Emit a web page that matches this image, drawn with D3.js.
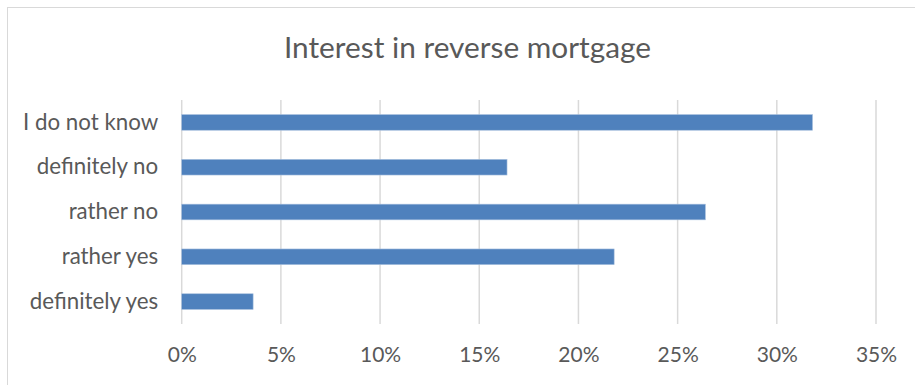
<!DOCTYPE html>
<html>
<head>
<meta charset="utf-8">
<script src="https://cdn.jsdelivr.net/npm/d3@7"></script>
<style>
  html, body { margin: 0; padding: 0; background: #fff; }
  svg { display: block; }
  text { font-family: Lato, "Liberation Sans", sans-serif; fill: #595959; }
</style>
</head>
<body>
<svg id="chart" width="915" height="385"></svg>
<script>
// Survey answers, listed top to bottom as shown
const categories = ["I do not know", "definitely no", "rather no", "rather yes", "definitely yes"];
const shares = [0.318, 0.164, 0.264, 0.218, 0.036];
const tickValues = [0, 0.05, 0.10, 0.15, 0.20, 0.25, 0.30, 0.35];
const title = "Interest in reverse mortgage";

const svg = d3.select("#chart");

// outer chart frame
svg.append("rect")
  .attr("x", 7.5).attr("y", 7.5)
  .attr("width", 920).attr("height", 390)
  .attr("fill", "none").attr("stroke", "#d9d9d9").attr("stroke-width", 1);

const plot = { left: 181.7, right: 876, top: 100, bottom: 324 };

const x = d3.scaleLinear().domain([0, 0.35]).range([plot.left, plot.right]);
const y = d3.scaleBand().domain(categories).range([plot.top, plot.bottom])
  .paddingInner(0.65).paddingOuter(0.325);

// vertical gridlines
svg.append("g").selectAll("line").data(tickValues).join("line")
  .attr("x1", d => x(d)).attr("x2", d => x(d))
  .attr("y1", plot.top).attr("y2", plot.bottom)
  .attr("stroke", "#d9d9d9").attr("stroke-width", 1.5);

// bars
svg.append("g").selectAll("rect").data(categories).join("rect")
  .attr("x", x(0))
  .attr("y", d => y(d))
  .attr("width", (d, i) => x(shares[i]) - x(0))
  .attr("height", y.bandwidth())
  .attr("fill", "#4f81bd")
  .attr("stroke", "#a9c0de").attr("stroke-width", 0.6);

// category axis
const yAxis = svg.append("g")
  .attr("transform", `translate(${plot.left - 23.5},0)`)
  .call(d3.axisLeft(y).tickSize(0).tickPadding(0));
yAxis.select(".domain").remove();
yAxis.selectAll("text")
  .attr("font-size", 22.3)
  .attr("fill", "#595959")
  .style("font-family", "Lato, 'Liberation Sans', sans-serif");

// value axis
const xAxis = svg.append("g")
  .attr("transform", `translate(0,${plot.bottom})`)
  .call(d3.axisBottom(x).tickValues(tickValues).tickFormat(d3.format(".0%")).tickSize(0).tickPadding(23));
xAxis.select(".domain").remove();
xAxis.selectAll("text")
  .attr("font-size", 21)
  .attr("fill", "#595959")
  .style("font-family", "Lato, 'Liberation Sans', sans-serif");

// title
svg.append("text")
  .attr("x", 467.5).attr("y", 58)
  .attr("text-anchor", "middle")
  .attr("font-size", 29.8)
  .text(title);
</script>
</body>
</html>
